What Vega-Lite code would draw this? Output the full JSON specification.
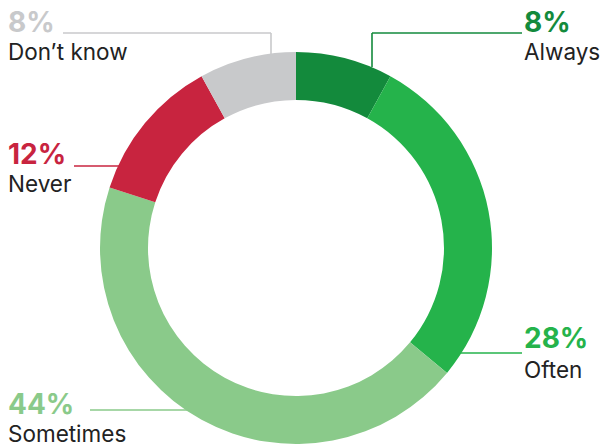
{
  "$schema": "https://vega.github.io/schema/vega-lite/v6.json",
  "width": 600,
  "height": 448,
  "padding": 0,
  "autosize": {"type": "none"},
  "background": "white",
  "config": {"view": {"stroke": null}, "font": "Inter"},
  "datasets": {
    "shares": [
      {"category": "Always", "value": 8, "order": 1, "pct": "8%", "lx": 228, "py": 216, "ny": 188},
      {"category": "Often", "value": 28, "order": 2, "pct": "28%", "lx": 228, "py": -100, "ny": -130},
      {"category": "Sometimes", "value": 44, "order": 3, "pct": "44%", "lx": -288, "py": -166, "ny": -194},
      {"category": "Never", "value": 12, "order": 4, "pct": "12%", "lx": -288, "py": 84, "ny": 56},
      {"category": "Don’t know", "value": 8, "order": 5, "pct": "8%", "lx": -288, "py": 216, "ny": 188}
    ],
    "leaders": [
      {"category": "Always", "x1": 76, "y1": 215, "x2": 226, "y2": 215},
      {"category": "Always", "x1": 76, "y1": 215, "x2": 76, "y2": 181},
      {"category": "Often", "x1": 164, "y1": -105, "x2": 226, "y2": -105},
      {"category": "Sometimes", "x1": -206, "y1": -162, "x2": -108, "y2": -162},
      {"category": "Never", "x1": -222, "y1": 82, "x2": -176, "y2": 82},
      {"category": "Don’t know", "x1": -233, "y1": 215, "x2": -25, "y2": 215},
      {"category": "Don’t know", "x1": -25, "y1": 215, "x2": -25, "y2": 193}
    ]
  },
  "encoding": {
    "color": {
      "field": "category",
      "type": "nominal",
      "legend": null,
      "scale": {
        "domain": ["Always", "Often", "Sometimes", "Never", "Don’t know"],
        "range": ["#138a3c", "#25b34b", "#8aca8a", "#c8243f", "#c8c9cb"]
      }
    }
  },
  "layer": [
    {
      "data": {"name": "shares"},
      "mark": {"type": "arc", "outerRadius": 196, "innerRadius": 148},
      "encoding": {
        "theta": {"field": "value", "type": "quantitative", "stack": true},
        "order": {"field": "order", "type": "quantitative"},
        "x": {"datum": 0, "type": "quantitative", "scale": {"domain": [-296, 304], "nice": false, "zero": false}, "axis": null},
        "y": {"datum": 0, "type": "quantitative", "scale": {"domain": [-200, 248], "nice": false, "zero": false}, "axis": null}
      }
    },
    {
      "data": {"name": "leaders"},
      "mark": {"type": "rule", "strokeWidth": 1.6},
      "encoding": {
        "x": {"field": "x1", "type": "quantitative"},
        "x2": {"field": "x2"},
        "y": {"field": "y1", "type": "quantitative"},
        "y2": {"field": "y2"}
      }
    },
    {
      "data": {"name": "shares"},
      "mark": {"type": "text", "align": "left", "baseline": "alphabetic", "fontSize": 28, "fontWeight": 700},
      "encoding": {
        "x": {"field": "lx", "type": "quantitative"},
        "y": {"field": "py", "type": "quantitative"},
        "text": {"field": "pct"}
      }
    },
    {
      "data": {"name": "shares"},
      "mark": {"type": "text", "align": "left", "baseline": "alphabetic", "fontSize": 22.5, "fontWeight": 400},
      "encoding": {
        "x": {"field": "lx", "type": "quantitative"},
        "y": {"field": "ny", "type": "quantitative"},
        "text": {"field": "category"},
        "color": {"value": "#222222"}
      }
    }
  ]
}
